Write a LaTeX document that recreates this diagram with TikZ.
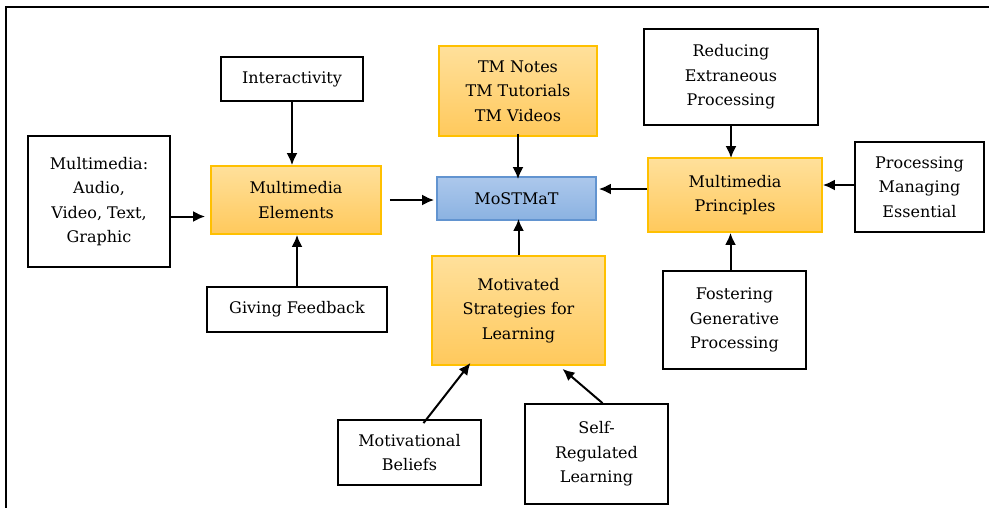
\documentclass[tikz,border=0pt]{standalone}
\usepackage{fontspec}
\setmainfont{DejaVu Serif}
\usetikzlibrary{arrows.meta}

\definecolor{orTop}{RGB}{255,224,155}
\definecolor{orBot}{RGB}{255,201,92}
\definecolor{orLine}{RGB}{255,192,0}
\definecolor{blTop}{RGB}{172,200,236}
\definecolor{blBot}{RGB}{139,178,225}
\definecolor{blLine}{RGB}{98,148,208}

\tikzset{
  plain/.style={draw=black, line width=1.8pt, fill=white, align=center,
    inner sep=2pt, font=\rmfamily\fontsize{16}{24.5}\selectfont},
  orbox/.style={plain, draw=orLine, top color=orTop, bottom color=orBot},
  blbox/.style={plain, draw=blLine, top color=blTop, bottom color=blBot},
  link/.style={line width=2pt, -{Latex[length=12pt,width=11pt]}}
}

\begin{document}
\begin{tikzpicture}[x=1pt,y=-1pt]
   \useasboundingbox (0,0) rectangle (989,507);
   \begin{scope}
     \clip (0,0) rectangle (989,507);
     \draw[line width=2pt] (6,7) rectangle (1000,520);
   \end{scope}

   % centre
   \node[blbox, minimum width=159pt, minimum height=43pt] (most) at (516.5,198.5) {MoSTMaT};
   \node[orbox, minimum width=158pt, minimum height=90pt] (tm) at (518,91) {TM Notes\\TM Tutorials\\TM Videos};
   \node[orbox, minimum width=173pt, minimum height=109pt] (msl) at (518.5,310.5) {Motivated\\Strategies for\\Learning};

   % left branch
   \node[orbox, minimum width=170pt, minimum height=68pt] (elem) at (296,200) {Multimedia\\Elements};
   \node[plain, minimum width=142pt, minimum height=44pt] (inter) at (292,79) {Interactivity};
   \node[plain, minimum width=142pt, minimum height=131pt] (media) at (99,201.5) {Multimedia:\\Audio,\\Video, Text,\\Graphic};
   \node[plain, minimum width=180pt, minimum height=45pt] (feed) at (297,309.5) {Giving Feedback};

   % right branch
   \node[orbox, minimum width=174pt, minimum height=74pt] (princ) at (735,195) {Multimedia\\Principles};
   \node[plain, minimum width=174pt, minimum height=96pt] (reduce) at (731,77) {Reducing\\Extraneous\\Processing};
   \node[plain, minimum width=129pt, minimum height=90pt] (manage) at (919.5,187) {Processing\\Managing\\Essential};
   \node[plain, minimum width=143pt, minimum height=98pt] (foster) at (734.5,320) {Fostering\\Generative\\Processing};

   % bottom
   \node[plain, minimum width=143pt, minimum height=65pt] (belief) at (409.5,452.5) {Motivational\\Beliefs};
   \node[plain, minimum width=143pt, minimum height=100pt] (srl) at (596.5,454) {Self-\\Regulated\\Learning};

   \draw[link] ([yshift=-15pt]media.east) -- ([yshift=-15pt,xshift=-5pt]media.east -| elem.west);
   \draw[link] (inter.south) -- (inter.south |- elem.north);
   \draw[link] (feed.north) -- (feed.north |- elem.south);
   \draw[link] ([xshift=8pt]elem.east) -- ([xshift=-2pt]elem.east -| most.west);
   \draw[link] ([yshift=3pt]tm.south) -- ([yshift=-3pt]tm.south |- most.north);
   \draw[link] (msl.north) -- ([yshift=2pt]msl.north |- most.south);
   \draw[link] ([yshift=6pt]princ.west) -- ([yshift=6pt,xshift=2pt]princ.west -| most.east);
   \draw[link] (reduce.south) -- ([yshift=-1pt]reduce.south |- princ.north);
   \draw[link] ([yshift=2pt]manage.west) -- ([yshift=2pt]manage.west -| princ.east);
   \draw[link] ([xshift=-4pt]foster.north) -- ([xshift=-4pt]foster.north |- princ.south);
   \draw[link] ([xshift=14pt,yshift=-4pt]belief.north) -- ([xshift=-48pt,yshift=3pt]msl.south);
   \draw[link] ([xshift=6pt]srl.north) -- ([xshift=44pt,yshift=-3pt]msl.south);
\end{tikzpicture}
\end{document}
